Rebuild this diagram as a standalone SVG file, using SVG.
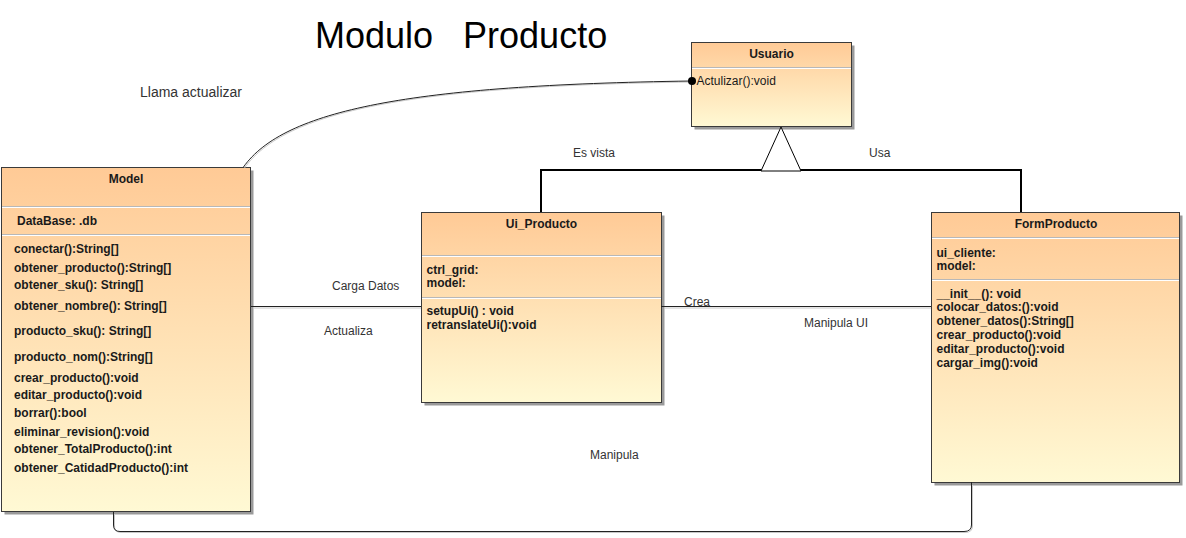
<svg xmlns="http://www.w3.org/2000/svg" width="1186" height="538" viewBox="0 0 1186 538">
<defs>
<linearGradient id="g" x1="0" y1="0" x2="0" y2="1">
<stop offset="0" stop-color="#FFCA96"/>
<stop offset="1" stop-color="#FFF9D4"/>
</linearGradient>
<style>
.box{fill:url(#g);stroke:#3a3a3a;stroke-width:1}
.sh{fill:#9a9a9a}
.sep{stroke:#b8b8b8;stroke-width:1}
.sepw{stroke:#ffffff;stroke-width:1}
.t{font-family:"Liberation Sans",Arial,sans-serif;font-size:12px;font-weight:bold;fill:#1a1a1a}
.tc{text-anchor:middle}
.lbl{font-family:"Liberation Sans",Arial,sans-serif;font-size:12px;fill:#333}
.ln{fill:none;stroke:#222;stroke-width:1}
.lns{fill:none;stroke:#c8c8c8;stroke-width:1}
.gen{fill:none;stroke:#000;stroke-width:2}
</style>
</defs>
<rect width="1186" height="538" fill="#fff"/>
<text x="315" y="48" font-family="Liberation Sans, Arial, sans-serif" font-size="36" fill="#000" style="white-space:pre">Modulo   Producto</text>

<g id="usuario">
<rect class="sh" x="694.5" y="45.5" width="160" height="84"/>
<rect class="box" x="691.5" y="42.5" width="160" height="84"/>
<line class="sep" x1="692" y1="67.5" x2="851" y2="67.5"/>
<line class="sepw" x1="692" y1="68.5" x2="851" y2="68.5"/>
<text class="t tc" x="771.5" y="57.5">Usuario</text>
<text class="t" x="696.5" y="85" style="font-weight:normal">Actulizar():void</text>
</g>

<g id="model">
<rect class="sh" x="4.5" y="170.5" width="249" height="344"/>
<rect class="box" x="1.5" y="167.5" width="249" height="344"/>
<line class="sep" x1="2" y1="206.5" x2="250" y2="206.5"/>
<line class="sepw" x1="2" y1="207.5" x2="250" y2="207.5"/>
<line class="sep" x1="2" y1="234.5" x2="250" y2="234.5"/>
<line class="sepw" x1="2" y1="235.5" x2="250" y2="235.5"/>
<text class="t tc" x="126" y="182.5">Model</text>
<text class="t" x="17" y="224.5">DataBase: .db</text>
<text class="t" x="14" y="253">conectar():String[]</text>
<text class="t" x="14" y="271.5">obtener_producto():String[]</text>
<text class="t" x="14" y="289">obtener_sku(): String[]</text>
<text class="t" x="14" y="310">obtener_nombre(): String[]</text>
<text class="t" x="14" y="335">producto_sku(): String[]</text>
<text class="t" x="14" y="360.5">producto_nom():String[]</text>
<text class="t" x="14" y="381.5">crear_producto():void</text>
<text class="t" x="14" y="399">editar_producto():void</text>
<text class="t" x="14" y="416.5">borrar():bool</text>
<text class="t" x="14" y="435.5">eliminar_revision():void</text>
<text class="t" x="14" y="453">obtener_TotalProducto():int</text>
<text class="t" x="14" y="471.5">obtener_CatidadProducto():int</text>
</g>

<g id="ui_producto">
<rect class="sh" x="424.5" y="215.5" width="240" height="190"/>
<rect class="box" x="421.5" y="212.5" width="240" height="190"/>
<line class="sep" x1="422" y1="255.5" x2="661" y2="255.5"/>
<line class="sepw" x1="422" y1="256.5" x2="661" y2="256.5"/>
<line class="sep" x1="422" y1="297.5" x2="661" y2="297.5"/>
<line class="sepw" x1="422" y1="298.5" x2="661" y2="298.5"/>
<text class="t tc" x="541.5" y="227.5">Ui_Producto</text>
<text class="t" x="426.5" y="273.5">ctrl_grid:</text>
<text class="t" x="426.5" y="286.5">model:</text>
<text class="t" x="426.5" y="315">setupUi() : void</text>
<text class="t" x="426.5" y="329">retranslateUi():void</text>
</g>

<g id="formproducto">
<rect class="sh" x="934.5" y="215.5" width="248" height="270"/>
<rect class="box" x="931.5" y="212.5" width="248" height="270"/>
<line class="sep" x1="932" y1="237.5" x2="1179" y2="237.5"/>
<line class="sepw" x1="932" y1="238.5" x2="1179" y2="238.5"/>
<line class="sep" x1="932" y1="279.5" x2="1179" y2="279.5"/>
<line class="sepw" x1="932" y1="280.5" x2="1179" y2="280.5"/>
<text class="t tc" x="1056" y="227.5">FormProducto</text>
<text class="t" x="936.5" y="256.5">ui_cliente:</text>
<text class="t" x="936.5" y="270">model:</text>
<text class="t" x="936.5" y="297.5">__init__(): void</text>
<text class="t" x="936.5" y="311">colocar_datos:():void</text>
<text class="t" x="936.5" y="325">obtener_datos():String[]</text>
<text class="t" x="936.5" y="339">crear_producto():void</text>
<text class="t" x="936.5" y="353">editar_producto():void</text>
<text class="t" x="936.5" y="367">cargar_img():void</text>
</g>

<g id="connectors">
<path class="lns" d="M244.5,168 C285,111 410,86 692,82"/>
<path class="ln" d="M243.5,167 C284,110 410,85 692,81"/>
<circle cx="692" cy="81" r="4" fill="#000"/>
<path class="gen" d="M541,212 V170 H1021 V212"/>
<polygon points="781,127 761,171 801,171" fill="#fff" stroke="#000" stroke-width="1"/>
<line class="lns" x1="254" y1="308" x2="421" y2="308"/>
<line class="ln" x1="251" y1="306.5" x2="421" y2="306.5"/>
<line class="lns" x1="664" y1="308" x2="931" y2="308"/>
<line class="ln" x1="661" y1="306.5" x2="931" y2="306.5"/>
<path class="lns" d="M114.5,515 V526 Q114.5,532.5 121,532.5 H965 Q972.5,532.5 972.5,526 V486"/>
<path class="ln" d="M113.5,512 V525 Q113.5,531.5 120,531.5 H964 Q971.5,531.5 971.5,525 V482"/>
</g>

<g id="labels">
<text class="lbl" x="140" y="97" style="font-size:14px">Llama actualizar</text>
<text class="lbl" x="573" y="157">Es vista</text>
<text class="lbl" x="869" y="157">Usa</text>
<text class="lbl" x="332" y="290">Carga Datos</text>
<text class="lbl" x="324" y="335">Actualiza</text>
<text class="lbl" x="684" y="306">Crea</text>
<text class="lbl" x="804" y="327">Manipula UI</text>
<text class="lbl" x="590" y="459">Manipula</text>
</g>
</svg>
